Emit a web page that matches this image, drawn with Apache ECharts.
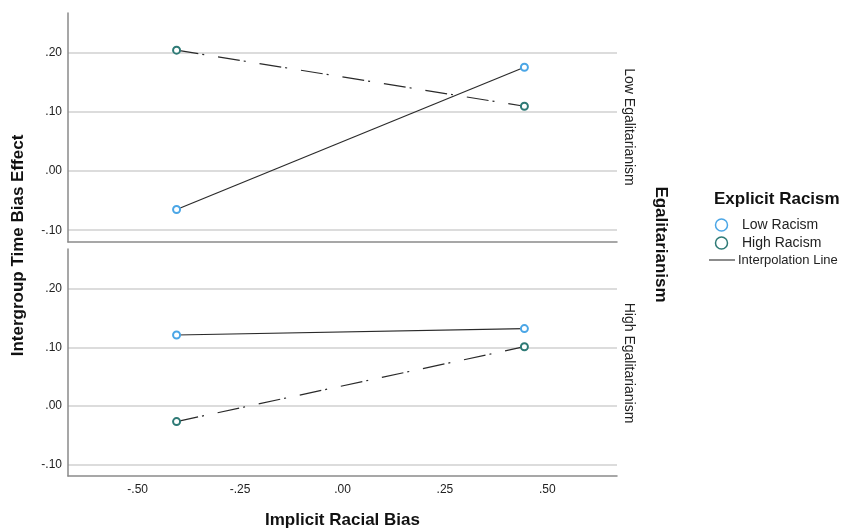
<!DOCTYPE html>
<html>
<head>
<meta charset="utf-8">
<script src="https://cdn.jsdelivr.net/npm/echarts@6/dist/echarts.min.js"></script>
<style>
html,body{margin:0;padding:0;background:#fff;}
#chart{width:843px;height:530px;}
</style>
</head>
<body>
<div id="chart"></div>
<script>
// ---- data ----
const xValues = [-0.405, 0.444];                 // Implicit Racial Bias
const lowEgalLowRacism  = [-0.065, 0.176];
const lowEgalHighRacism = [0.205, 0.110];
const highEgalLowRacism  = [0.121, 0.132];
const highEgalHighRacism = [-0.027, 0.101];
const yTicks = [-0.1, 0, 0.1, 0.2];
const xTicks = [-0.5, -0.25, 0, 0.25, 0.5];
const panelLabels = ['Low Egalitarianism', 'High Egalitarianism'];
const legendItems = ['Low Racism', 'High Racism', 'Interpolation Line'];

const FONT = '"Liberation Sans", Arial, Helvetica, sans-serif';
const lowColor = '#4ba6e6';
const highColor = '#2e7a76';
const lineColor = '#2a2a2a';
const axisColor = '#8a8a8a';
const gridColor = '#d0d0d0';

function fmt(v) {
  return v.toFixed(2).replace(/^(-?)0\./, '$1.');
}
function pairs(ys) { return xValues.map((x, i) => [x, ys[i]]); }

const chart = echarts.init(document.getElementById('chart'), null, {renderer: 'canvas'});

function yAxisCfg(idx) {
  return {
    type: 'value', gridIndex: idx, min: -0.12, max: 0.268,
    axisLine: {show: true, onZero: false, lineStyle: {color: axisColor, width: 1.5}},
    axisTick: {show: false, customValues: yTicks},
    axisLabel: {customValues: yTicks, formatter: fmt, fontSize: 12, color: '#222', fontFamily: FONT, margin: 6},
    splitLine: {show: true, lineStyle: {color: gridColor, width: 1.5}}
  };
}
function xAxisCfg(idx, labels) {
  const c = {
    type: 'value', gridIndex: idx, min: -0.67, max: 0.67,
    axisLine: {show: true, onZero: false, lineStyle: {color: axisColor, width: 1.5}},
    axisTick: {show: false, customValues: xTicks},
    axisLabel: {show: labels, customValues: xTicks, formatter: fmt, fontSize: 12, color: '#222', fontFamily: FONT, margin: 8},
    splitLine: {show: false}
  };
  if (labels) {
    c.name = 'Implicit Racial Bias';
    c.nameLocation = 'middle';
    c.nameGap = 36;
    c.nameTextStyle = {fontSize: 17, fontWeight: 'bold', color: '#111', fontFamily: FONT};
  }
  return c;
}
function lineSeries(idx, ys, color, dashed) {
  return {
    type: 'line', xAxisIndex: idx, yAxisIndex: idx,
    data: pairs(ys),
    symbol: 'emptyCircle', symbolSize: 7,
    itemStyle: {color: color, borderColor: color, borderWidth: 1.5},
    lineStyle: {color: lineColor, width: 1.2, type: dashed ? [22, 4, 2, 14] : 'solid'},
    z: 3, animation: false, silent: true
  };
}

const option = {
  backgroundColor: '#fff',
  animation: false,
  grid: [
    {left: 68, top: 13, width: 549, height: 229},
    {left: 68, top: 249, width: 549, height: 230}
  ],
  xAxis: [xAxisCfg(0, false), xAxisCfg(1, true)],
  yAxis: [yAxisCfg(0), yAxisCfg(1)],
  series: [
    lineSeries(0, lowEgalLowRacism, lowColor, false),
    lineSeries(0, lowEgalHighRacism, highColor, true),
    lineSeries(1, highEgalLowRacism, lowColor, false),
    lineSeries(1, highEgalHighRacism, highColor, true)
  ],
  graphic: [
    {type: 'text', x: 18, y: 245.5, rotation: Math.PI / 2,
     style: {text: 'Intergroup Time Bias Effect', font: 'bold 17px ' + FONT, fill: '#111', align: 'center', verticalAlign: 'middle'}},
    {type: 'text', x: 628.5, y: 127, rotation: -Math.PI / 2,
     style: {text: panelLabels[0], font: '14px ' + FONT, fill: '#222', align: 'center', verticalAlign: 'middle'}},
    {type: 'text', x: 628.5, y: 363, rotation: -Math.PI / 2,
     style: {text: panelLabels[1], font: '14px ' + FONT, fill: '#222', align: 'center', verticalAlign: 'middle'}},
    {type: 'text', x: 661, y: 244.5, rotation: -Math.PI / 2,
     style: {text: 'Egalitarianism', font: 'bold 17px ' + FONT, fill: '#111', align: 'center', verticalAlign: 'middle'}},
    {type: 'text', x: 714, y: 199,
     style: {text: 'Explicit Racism', font: 'bold 17px ' + FONT, fill: '#111', align: 'left', verticalAlign: 'middle'}},
    {type: 'circle', shape: {cx: 721.5, cy: 225, r: 6}, style: {fill: '#fff', stroke: lowColor, lineWidth: 1.5}},
    {type: 'text', x: 742, y: 225,
     style: {text: legendItems[0], font: '14px ' + FONT, fill: '#222', align: 'left', verticalAlign: 'middle'}},
    {type: 'circle', shape: {cx: 721.5, cy: 243, r: 6}, style: {fill: '#fff', stroke: highColor, lineWidth: 1.5}},
    {type: 'text', x: 742, y: 243,
     style: {text: legendItems[1], font: '14px ' + FONT, fill: '#222', align: 'left', verticalAlign: 'middle'}},
    {type: 'line', shape: {x1: 709, y1: 260, x2: 735, y2: 260}, style: {stroke: '#666', lineWidth: 1.5}},
    {type: 'text', x: 738, y: 260,
     style: {text: legendItems[2], font: '13px ' + FONT, fill: '#222', align: 'left', verticalAlign: 'middle'}}
  ]
};
chart.setOption(option);
</script>
</body>
</html>
